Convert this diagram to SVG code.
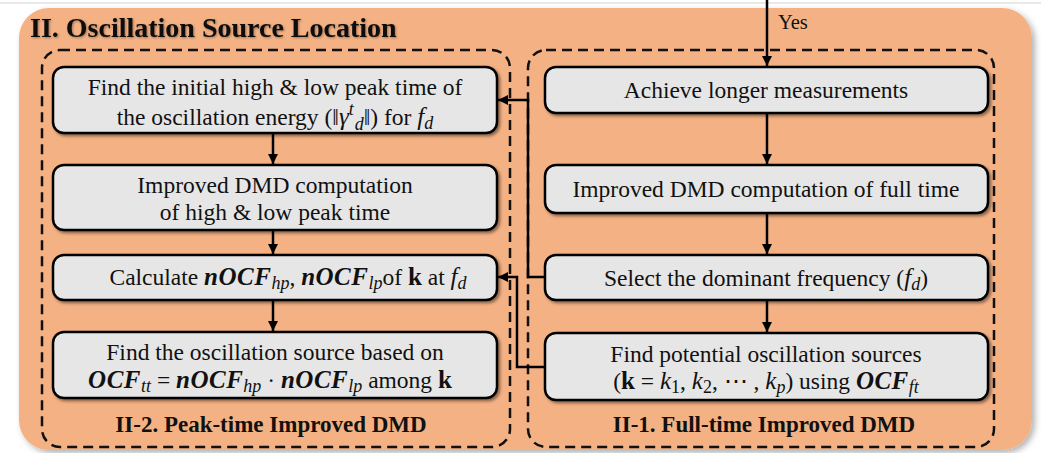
<svg xmlns="http://www.w3.org/2000/svg" width="1041" height="453" viewBox="0 0 1041 453">
<defs>
<filter id="sh" x="-10%" y="-10%" width="120%" height="130%"><feDropShadow dx="2" dy="2" stdDeviation="1.5" flood-color="#000" flood-opacity="0.45"/></filter>
<filter id="osh" x="-5%" y="-5%" width="110%" height="115%"><feDropShadow dx="3" dy="3" stdDeviation="3" flood-color="#000" flood-opacity="0.3"/></filter>
<filter id="tsh" x="-5%" y="-20%" width="110%" height="140%"><feDropShadow dx="1" dy="1" stdDeviation="1" flood-color="#000" flood-opacity="0.35"/></filter>
<marker id="ah" viewBox="0 0 10 10" refX="10" refY="5" markerWidth="4" markerHeight="4" orient="auto" markerUnits="strokeWidth"><path d="M0,0 L10,5 L0,10 z" fill="#000"/></marker>
</defs>
<style>
.box{fill:#e6e6e6;stroke:#000;stroke-width:2.5;filter:url(#sh)}
.cont{fill:none;stroke:#111;stroke-width:2.5;stroke-dasharray:10 6}
.t{font-family:"Liberation Serif","Times New Roman",serif;font-size:23.5px;fill:#111;text-anchor:middle}
.lbl{font-family:"Liberation Serif","Times New Roman",serif;font-size:23px;font-weight:bold;fill:#111;text-anchor:middle}
.i{font-style:italic}
.m{font-style:italic;font-size:25px}
.bi{font-style:italic;font-weight:bold;font-size:25px;letter-spacing:0.5px}
.s{font-style:italic;font-size:18px}
.b{font-weight:bold;font-size:25px}
.c{fill:none;stroke:#000;stroke-width:2.5}
</style>
<rect x="0" y="0" width="1041" height="453" fill="#fff"/>
<line x1="0" y1="3" x2="1041" y2="3" stroke="#e2e2e2" stroke-width="1.5"/>
<rect x="19" y="8" width="1013" height="442" rx="30" fill="#f4b183" filter="url(#osh)"/>
<text x="30" y="37" font-family="'Liberation Serif','Times New Roman',serif" font-size="28" font-weight="bold" fill="#111" filter="url(#tsh)">II. Oscillation Source Location</text>

<g id="container-left"><rect class="cont" x="42" y="50" width="468" height="397" rx="18"/><text class="lbl" x="271" y="432">II-2. Peak-time Improved DMD</text></g>
<g id="container-right"><rect class="cont" x="528" y="50" width="466" height="397" rx="18"/><text class="lbl" x="764" y="432">II-1. Full-time Improved DMD</text></g>

<g id="connectors">
<line class="c" x1="767" y1="0" x2="767" y2="66" marker-end="url(#ah)"/>
<text x="778" y="29" font-family="'Liberation Serif','Times New Roman',serif" font-size="20.5" fill="#111">Yes</text>
<line class="c" x1="767" y1="113" x2="767" y2="164" marker-end="url(#ah)"/>
<line class="c" x1="767" y1="213" x2="767" y2="254" marker-end="url(#ah)"/>
<line class="c" x1="767" y1="300" x2="767" y2="332" marker-end="url(#ah)"/>
<line class="c" x1="273" y1="133" x2="273" y2="164" marker-end="url(#ah)"/>
<line class="c" x1="273" y1="230" x2="273" y2="254" marker-end="url(#ah)"/>
<line class="c" x1="273" y1="300" x2="273" y2="331" marker-end="url(#ah)"/>
<polyline class="c" points="545,277 528,277 528,100 498,100" marker-end="url(#ah)"/>
<polyline class="c" points="545,367 517,367 517,277 498,277" marker-end="url(#ah)"/>
</g>

<g id="n-left-1"><rect class="box" x="53" y="67" width="444" height="66" rx="11"/>
<text class="t" x="275" y="95">Find the initial high &amp; low peak time of</text>
<text class="t" x="275" y="125">the oscillation energy (‖<tspan class="m">γ</tspan><tspan class="s" font-size="16" dy="-10">t</tspan><tspan class="s" font-size="16" dx="1" dy="15">d</tspan><tspan dy="-5">‖) for </tspan><tspan class="m">f</tspan><tspan class="s" dy="4">d</tspan></text></g>

<g id="n-left-2"><rect class="box" x="53" y="165" width="444" height="65" rx="11"/>
<text class="t" x="275" y="193">Improved DMD computation</text>
<text class="t" x="275" y="220">of high &amp; low peak time</text></g>

<g id="n-left-3"><rect class="box" x="53" y="255" width="444" height="45" rx="11"/>
<text class="t" x="288" y="285">Calculate <tspan class="bi">nOCF</tspan><tspan class="s" dy="4">hp</tspan><tspan dy="-4">, </tspan><tspan class="bi">nOCF</tspan><tspan class="s" dy="4">lp</tspan><tspan dy="-4">of </tspan><tspan class="b">k</tspan> at <tspan class="m">f</tspan><tspan class="s" dy="4">d</tspan></text></g>

<g id="n-left-4"><rect class="box" x="53" y="332" width="444" height="66" rx="11"/>
<text class="t" x="275" y="360">Find the oscillation source based on</text>
<text class="t" x="270" y="388"><tspan class="bi">OCF</tspan><tspan class="s" dy="4">tt</tspan><tspan dy="-4"> = </tspan><tspan class="bi">nOCF</tspan><tspan class="s" dy="4">hp</tspan><tspan dy="-4"> · </tspan><tspan class="bi">nOCF</tspan><tspan class="s" dy="4">lp</tspan><tspan dy="-4"> among </tspan><tspan class="b">k</tspan></text></g>

<g id="n-right-1"><rect class="box" x="545" y="67" width="443" height="46" rx="11"/>
<text class="t" x="766" y="98">Achieve longer measurements</text></g>

<g id="n-right-2"><rect class="box" x="545" y="165" width="443" height="48" rx="11"/>
<text class="t" x="766" y="197">Improved DMD computation of full time</text></g>

<g id="n-right-3"><rect class="box" x="545" y="255" width="443" height="45" rx="11"/>
<text class="t" x="766" y="286">Select the dominant frequency (<tspan class="m">f</tspan><tspan class="s" dy="4">d</tspan><tspan dy="-4">)</tspan></text></g>

<g id="n-right-4"><rect class="box" x="545" y="333" width="443" height="67" rx="11"/>
<text class="t" x="766" y="362">Find potential oscillation sources</text>
<text class="t" x="766" y="389">(<tspan class="b">k</tspan> = <tspan class="m">k</tspan><tspan font-size="18" dy="4">1</tspan><tspan dy="-4">, </tspan><tspan class="m">k</tspan><tspan font-size="18" dy="4">2</tspan><tspan dy="-4">, ⋯ , </tspan><tspan class="m">k</tspan><tspan class="s" dy="4">p</tspan><tspan dy="-4">) using </tspan><tspan class="bi">OCF</tspan><tspan class="s" dy="4">ft</tspan></text></g>
</svg>
